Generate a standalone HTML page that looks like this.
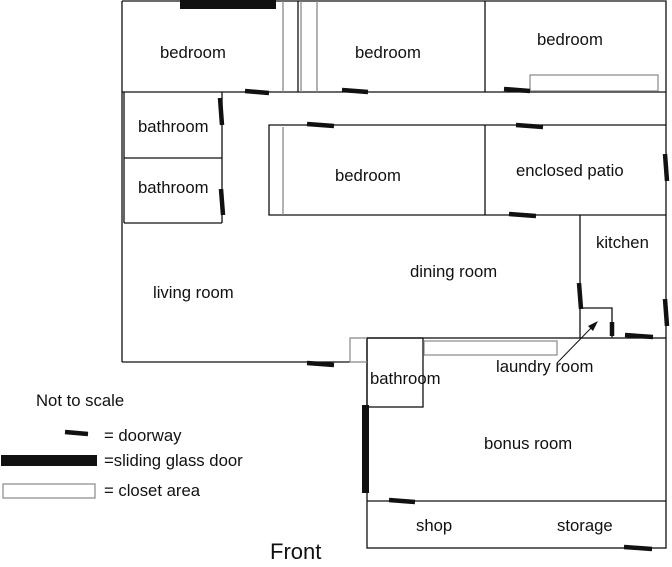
<!DOCTYPE html>
<html><head><meta charset="utf-8"><style>
html,body{margin:0;padding:0;background:#fff;}
svg{display:block;}
text{font-family:"Liberation Sans","DejaVu Sans",sans-serif;font-size:16.7px;fill:#111;}
</style></head><body>
<svg width="672" height="567" viewBox="0 0 672 567" xmlns="http://www.w3.org/2000/svg">
<g stroke="#111" stroke-width="1.3" fill="none">
<polyline points="122,1 666,1 666,338"/>
<line x1="122" y1="1" x2="122" y2="362"/>
<line x1="122" y1="362" x2="350" y2="362"/>
<line x1="122" y1="92" x2="666" y2="92"/>
<line x1="283" y1="1" x2="283" y2="92" stroke="#888"/>
<line x1="298" y1="1" x2="298" y2="92"/>
<line x1="301" y1="1" x2="301" y2="92" stroke="#888"/>
<line x1="317" y1="1" x2="317" y2="92" stroke="#888"/>
<line x1="485" y1="1" x2="485" y2="92"/>
<line x1="222" y1="92" x2="222" y2="223"/>
<line x1="124" y1="158" x2="222" y2="158"/>
<line x1="124" y1="223" x2="222" y2="223"/>
<line x1="124" y1="92" x2="124" y2="223"/>
<polyline points="666,125 269,125 269,215 666,215"/>
<line x1="283" y1="127" x2="283" y2="215" stroke="#888"/>
<line x1="485" y1="125" x2="485" y2="215"/>
<line x1="580" y1="215" x2="580" y2="338"/>
<polyline points="580,308 612,308 612,338"/>
<rect x="367" y="338" width="299" height="210"/>
<rect x="367" y="338" width="56" height="69"/>
<line x1="367" y1="501" x2="666" y2="501"/>
<line x1="557" y1="363" x2="594" y2="325" stroke-width="1"/>
</g>
<polygon points="598,321 588,326 593,331" fill="#111"/>
<g stroke="#888" stroke-width="1.2" fill="none">
<rect x="530" y="75" width="128" height="16"/>
<rect x="424" y="341" width="133" height="14"/>
<polyline points="367,338 350,338 350,362 367,362"/>
<rect x="3" y="484" width="92" height="14"/>
</g>
<rect x="180" y="0" width="96" height="9" fill="#111"/>
<rect x="362" y="405" width="7" height="88" fill="#111"/>
<rect x="1" y="455" width="96" height="11" fill="#111"/>
<g stroke="#111" stroke-width="4.5" stroke-linecap="butt">
<line x1="245" y1="91" x2="269" y2="93"/>
<line x1="342" y1="90" x2="368" y2="92"/>
<line x1="504" y1="89" x2="530" y2="91"/>
<line x1="307" y1="124" x2="334" y2="126"/>
<line x1="516" y1="125" x2="543" y2="127"/>
<line x1="220" y1="98" x2="222" y2="125"/>
<line x1="221" y1="189" x2="223" y2="215"/>
<line x1="509" y1="214" x2="536" y2="216"/>
<line x1="665" y1="154" x2="667" y2="181"/>
<line x1="579" y1="283" x2="581" y2="309"/>
<line x1="665" y1="299" x2="667" y2="326"/>
<line x1="612" y1="322" x2="612" y2="336"/>
<line x1="625" y1="335" x2="653" y2="337"/>
<line x1="307" y1="363" x2="334" y2="365"/>
<line x1="389" y1="500" x2="415" y2="502"/>
<line x1="624" y1="547" x2="652" y2="549"/>
<line x1="65" y1="432" x2="88" y2="434"/>
</g>
<text x="160" y="58">bedroom</text>
<text x="355" y="58">bedroom</text>
<text x="537" y="45">bedroom</text>
<text x="138" y="132">bathroom</text>
<text x="138" y="193">bathroom</text>
<text x="335" y="181">bedroom</text>
<text x="516" y="176">enclosed patio</text>
<text x="596" y="248">kitchen</text>
<text x="410" y="277">dining room</text>
<text x="153" y="298">living room</text>
<text x="496" y="372">laundry room</text>
<text x="370" y="384">bathroom</text>
<text x="484" y="449">bonus room</text>
<text x="416" y="531">shop</text>
<text x="557" y="531">storage</text>
<text x="36" y="406">Not to scale</text>
<text x="104" y="441">= doorway</text>
<text x="104" y="466">=sliding glass door</text>
<text x="104" y="496">= closet area</text>
<text x="270" y="559" style="font-size:22px">Front</text>
</svg>
</body></html>
